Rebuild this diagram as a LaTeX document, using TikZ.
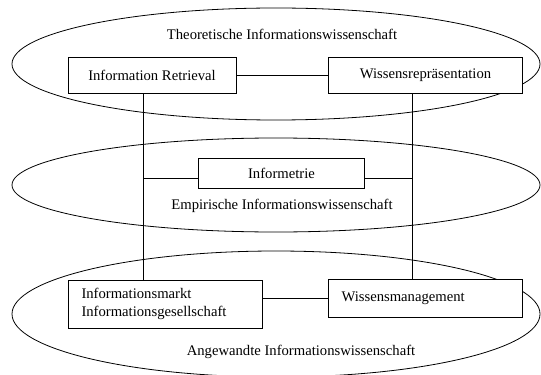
\documentclass[tikz,border=0pt]{standalone}
\usepackage{fontspec}
\setmainfont{Liberation Serif}
\usetikzlibrary{positioning}
\usetikzlibrary{shapes}

\begin{document}
\begin{tikzpicture}[
            x=0.75pt, y=-0.75pt, line width=0.6pt,
            field/.style={draw, ellipse, inner sep=0pt, minimum width=396pt},
            area/.style={draw, rectangle, fill=white, minimum height=27pt, font=\fontsize{11}{13}\selectfont},
            leftarea/.style={area, align=left, text width=126pt, inner xsep=10pt},
            title/.style={font=\fontsize{11}{13}\selectfont}
        ]
            \useasboundingbox (0,0) rectangle (541,374);

            % Fields
            \node[field, minimum height=84pt] (theo) at (276,64) {};
            \node[field, minimum height=70.5pt] (emp) at (276,185) {};
            \node[field, minimum height=94.5pt] (angew) at (276,314) {};
            \node[title] (theotitle) at (282,34) {Theoretische Informationswissenschaft};
            \node[title] (emptitle) at (282,206) {Empirische Informationswissenschaft};
            \node[title] (angewtitle) at (301,352) {Angewandte Informationswissenschaft};

            % Areas
            \node[area, minimum width=126pt] (retrieval) at (152,75) {Information Retrieval};
            \node[area, minimum width=146pt] (repr) at (425.5,75) {Wissensrepräsentation};
            \node[area, minimum width=125pt, minimum height=22.5pt] (infometrie) at (281.5,173) {Informetrie};
            \node[leftarea, minimum height=36pt] (markt) at (165.5,304) {Informationsmarkt\\Informationsgesellschaft};
            \node[leftarea, minimum height=28pt] (wm) at (425.5,298.5) {Wissensmanagement};

            % Connections
            \coordinate (lx) at (143,178);
            \coordinate (rx) at (412,178);
            \draw (retrieval) -- (repr);
            \draw (retrieval.south -| lx) -- (markt.north -| lx);
            \draw (repr.south -| rx) -- (wm.north -| rx);
            \draw (lx) -- (lx -| infometrie.west);
            \draw (infometrie.east |- rx) -- (rx);
            \draw (wm.west -| markt.east) -- (wm.west);
        \end{tikzpicture}
\end{document}
